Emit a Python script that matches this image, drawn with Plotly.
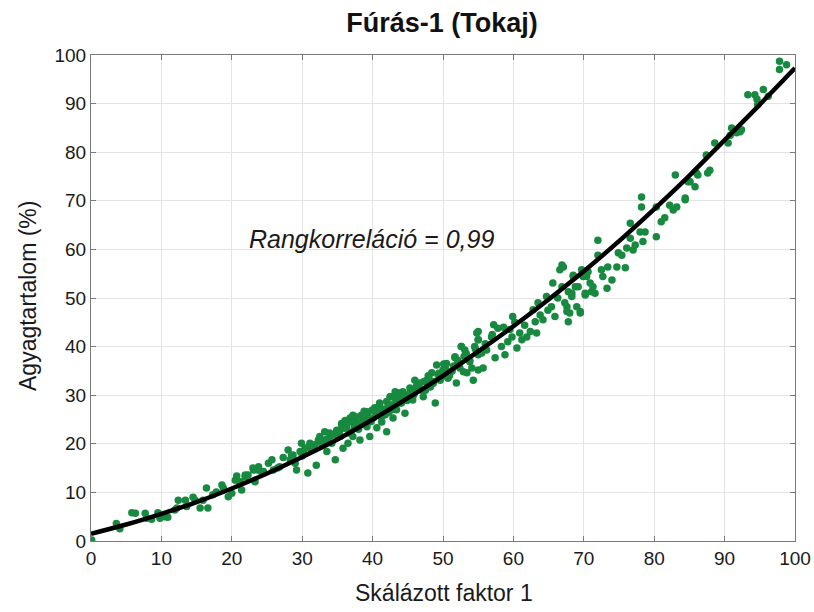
import plotly.graph_objects as go

# Scatter samples (Skálázott faktor 1, Agyagtartalom %)
x_pts = [
    0.1, 3.6, 4.1, 5.8, 6.3, 7.7, 7.9, 8.6, 9.5, 9.8, 10.5, 10.9, 11.9, 12.4, 12.2, 13.4, 13.6,
    14.5, 14.8, 15.5, 15.9, 16.4, 16.6, 17.3, 17.8, 18.6, 18.8, 19.5, 20.0, 20.5, 20.7, 21.2,
    21.4, 21.9, 22.3, 23.0, 23.3, 23.7, 24.2,
    21.9, 23.1, 23.8, 24.5, 25.2, 25.7, 25.9, 26.8, 28.0, 28.3, 28.7, 29.2, 29.7, 29.9, 30.4,
    30.8, 31.1, 31.3, 31.8, 32.0, 32.5, 33.0, 33.2, 33.5, 33.9, 34.2, 34.7, 34.9, 35.4, 35.6,
    35.8, 36.3, 36.5, 37.0, 37.2, 37.5, 37.7, 38.2, 38.4, 38.6, 39.2, 39.3, 39.6, 40.1, 40.3,
    40.6, 41.0, 41.3, 41.5, 42.0, 42.2, 42.5, 42.9, 43.2, 43.4, 43.9, 44.3, 44.6, 44.8,
    35.6, 36.8, 37.2, 37.7, 38.4, 39.2, 39.6, 40.3, 41.0, 41.5, 42.0, 42.5, 42.7, 43.2, 43.6,
    44.1, 44.3, 45.0, 45.3, 45.7, 46.0, 46.4, 46.7, 47.2, 47.7, 48.2, 48.4, 48.9, 49.1, 49.6,
    50.0, 50.3, 50.7, 51.0, 51.7, 51.9, 52.4, 52.6, 53.1, 53.4, 53.8, 54.3, 54.8, 55.0, 55.0,
    55.0,
    50.3, 51.7, 52.6, 52.9, 53.8, 54.1, 55.0, 55.0, 55.5, 55.7, 56.2, 56.9, 57.4, 57.8, 58.3,
    58.8, 59.2, 59.8, 59.9, 60.5, 60.9, 61.2, 61.6, 61.9, 62.4, 63.1, 63.3, 63.5, 63.8, 64.2,
    64.7, 64.9, 65.4, 65.6, 65.9, 66.3, 66.9, 66.9, 67.3, 67.6, 67.8, 68.3, 68.5, 68.8, 69.0,
    69.5, 69.7, 70.2, 70.4,
    66.6, 67.1, 67.6, 68.0, 68.5, 67.8, 68.3, 69.2, 69.5, 69.9, 70.2, 70.6, 70.9, 71.1, 71.3,
    71.6, 72.0, 72.0, 72.5, 72.7, 73.3, 73.4, 74.0, 74.7, 74.9, 75.4, 75.9, 76.1, 76.6, 76.6,
    77.0, 77.3, 78.0, 78.2, 78.2, 78.4, 78.7, 80.3, 80.3, 81.0, 81.5, 82.2, 82.7, 83.0, 83.2,
    84.4, 84.8, 85.8, 86.0,
    84.4, 85.1, 86.2, 87.4, 87.6, 87.9, 88.6, 90.5, 90.8, 91.0, 91.7, 92.2, 92.4, 93.3, 94.3,
    94.6, 94.7, 95.5, 96.2, 97.8, 97.8, 98.8,
    31.5, 32.8, 34.0, 35.1, 36.0, 36.9, 38.0, 38.9, 39.8, 40.8, 41.8, 42.6, 43.7, 44.5, 45.5,
    46.2, 47.0, 47.9, 48.7, 49.4, 50.5, 51.3, 52.1, 53.0, 54.5, 56.0, 57.2, 58.6, 60.2, 62.8,
    26.5, 27.3, 29.0, 30.0, 33.6, 36.7, 39.0, 41.2, 43.0, 45.8, 47.5, 49.8, 51.5, 57.0, 59.5,
    28.5, 30.2, 31.0, 32.3, 33.4, 34.5, 35.3, 36.1, 37.4, 38.1, 38.8, 39.9, 40.5, 41.7, 42.3,
    43.1, 43.8, 44.9, 45.2, 45.9, 46.5, 47.3, 48.0, 48.6, 49.3, 50.1, 50.9, 52.0, 53.3, 54.6,
]
y_pts = [
    0.2, 3.6, 2.5, 5.8, 5.7, 5.7, 4.7, 4.5, 5.8, 4.7, 5.0, 4.9, 6.4, 8.4, 6.8, 8.4, 7.1,
    9.0, 8.4, 6.8, 8.4, 10.9, 6.8, 9.5, 10.1, 11.5, 10.9, 9.1, 9.8, 12.5, 13.4, 12.2,
    10.5, 13.2, 13.6, 15.0, 12.2, 14.6, 14.3,
    13.6, 14.6, 15.3, 14.3, 16.0, 16.7, 14.6, 15.3, 18.7, 16.7, 17.7, 14.6, 18.4, 20.1, 19.1,
    14.0, 20.1, 18.7, 19.8, 15.6, 21.5, 20.4, 22.5, 18.4, 22.2, 20.1, 16.7, 22.8, 21.5, 23.9,
    19.1, 23.5, 20.1, 24.5, 21.5, 25.6, 23.5, 20.8, 25.9, 24.3, 23.5, 26.3, 21.5, 25.3, 27.0,
    23.3, 28.4, 24.5, 26.3, 22.5, 27.6, 29.7, 25.3, 30.7, 27.0, 28.4, 30.5, 26.3, 29.0,
    24.2, 25.3, 25.9, 24.5, 25.6, 26.6, 24.9, 27.4, 28.0, 25.9, 28.7, 29.7, 27.0, 29.4, 30.5,
    28.4, 30.7, 30.0, 31.5, 29.0, 33.1, 31.1, 32.5, 29.7, 33.1, 31.7, 34.6, 28.4, 36.2, 33.1,
    35.2, 35.9, 33.5, 34.6, 37.7, 32.5, 35.6, 40.0, 39.3, 34.6, 36.9, 33.1, 42.8, 41.4, 38.3,
    35.2,
    35.6, 37.9, 40.0, 34.8, 37.2, 35.6, 43.1, 41.4, 38.7, 35.6, 39.3, 42.0, 37.7, 43.8, 40.0,
    38.3, 41.0, 42.0, 46.2, 39.7, 42.8, 41.4, 44.4, 42.0, 43.1, 45.1, 42.8, 49.0, 46.5, 45.5,
    50.3, 47.5, 48.2, 53.1, 46.2, 50.0, 56.8, 52.3, 49.0, 47.2, 45.1, 51.0, 54.7, 52.3, 48.2,
    47.2, 55.8, 50.6, 54.4,
    55.8, 56.4, 48.2, 46.9, 54.4, 51.3, 50.3, 52.3, 46.9, 54.4, 51.0, 55.4, 53.1, 51.3, 52.3,
    51.0, 61.9, 58.8, 55.8, 54.4, 52.0, 56.4, 53.7, 56.4, 59.3, 58.8, 56.2, 60.3, 65.4, 62.3,
    59.9, 60.9, 63.6, 70.8, 68.7, 61.6, 63.6, 62.6, 68.7, 65.7, 66.5, 69.1, 68.1, 75.3, 68.7,
    70.2, 73.9, 72.9, 75.7,
    70.6, 73.9, 75.3, 79.4, 75.7, 76.3, 81.9, 81.9, 83.5, 85.0, 84.0, 84.2, 84.6, 91.8, 91.8,
    90.9, 89.8, 92.9, 91.5, 98.7, 97.0, 98.0,
    19.0, 19.9, 21.6, 22.0, 23.2, 22.4, 23.0, 25.0, 24.6, 27.0, 26.0, 28.0, 28.8, 29.6, 30.8,
    31.8, 31.0, 34.0, 32.8, 34.5, 36.5, 35.0, 37.2, 38.0, 40.0, 40.6, 44.5, 44.0, 45.0, 47.6,
    15.0, 17.2, 16.0, 17.5, 21.0, 22.2, 24.0, 25.5, 27.8, 30.0, 31.0, 33.8, 36.0, 42.5, 43.5,
    17.6, 18.0, 19.5, 20.8, 20.9, 21.8, 22.6, 24.8, 23.4, 24.1, 26.7, 26.9, 25.8, 27.1, 26.5,
    28.2, 29.5, 28.9, 30.2, 30.3, 32.0, 32.8, 33.6, 32.4, 34.2, 36.4, 34.0, 36.2, 38.6, 39.5,
]

# Fitted curve
x_fit = [0, 5, 10, 15, 20, 25, 30, 35, 40, 45, 50, 55, 60, 65, 70, 75, 80, 85, 90, 95, 100]
y_fit = [1.5, 3.4, 5.6, 8.0, 10.8, 13.9, 17.3, 20.9, 25.0, 29.4, 34.0, 39.0, 44.2, 49.7,
         55.5, 61.7, 68.3, 75.2, 82.5, 89.8, 97.3]

ticks = [0, 10, 20, 30, 40, 50, 60, 70, 80, 90, 100]

FONT = "Liberation Sans, Arial, sans-serif"

fig = go.Figure()
fig.add_trace(go.Scatter(
    x=x_pts, y=y_pts, mode="markers",
    marker=dict(color="#188a40", size=7.5, line=dict(width=0)),
    showlegend=False, hoverinfo="skip"))
fig.add_trace(go.Scatter(
    x=x_fit, y=y_fit, mode="lines", line=dict(color="black", width=4.5, shape="spline"),
    showlegend=False))

axis_common = dict(
    range=[0, 100], tickvals=ticks, showgrid=True, gridcolor="#e4e4e4", gridwidth=1,
    zeroline=False, showline=True, linecolor="#7a7a7a", linewidth=1, mirror="allticks",
    ticks="inside", ticklen=5, tickcolor="#7a7a7a", automargin=False,
    tickfont=dict(family=FONT, size=19, color="#1a1a1a"),
)

fig.update_layout(
    width=814, height=612,
    margin=dict(l=91, r=19, t=55, b=71),
    paper_bgcolor="white", plot_bgcolor="white",
    title=dict(text="<b>Fúrás-1 (Tokaj)</b>", x=442 / 814, xanchor="center",
               y=1 - 23 / 612, yanchor="middle",
               font=dict(family=FONT, size=27, color="#111111")),
    xaxis=dict(**axis_common),
    yaxis=dict(**axis_common),
    annotations=[
        dict(x=39.9, y=62.1, xref="x", yref="y", showarrow=False,
             text="<i>Rangkorreláció = 0,99</i>",
             font=dict(family=FONT, size=25, color="#1a1a1a")),
        dict(x=(444 - 91) / 704, y=(541 - 593) / 486, xref="paper", yref="paper",
             showarrow=False, text="Skálázott faktor 1", xanchor="center", yanchor="middle",
             font=dict(family=FONT, size=23, color="#1a1a1a")),
        dict(x=(28 - 91) / 704, y=(541 - 296) / 486, xref="paper", yref="paper",
             showarrow=False, text="Agyagtartalom (%)", textangle=-90,
             xanchor="center", yanchor="middle",
             font=dict(family=FONT, size=23, color="#1a1a1a")),
    ],
)

fig.write_html("out.html")
